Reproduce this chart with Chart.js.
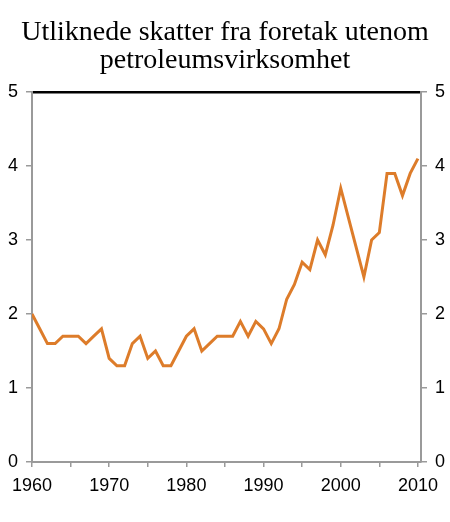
<!DOCTYPE html>
<html>
<head>
<meta charset="utf-8">
<script src="https://cdn.jsdelivr.net/npm/chart.js@4"></script>
<style>
  html, body { margin:0; padding:0; background:#fff; }
  #wrap { width:450px; height:522px; }
</style>
</head>
<body>
<div id="wrap"><canvas id="chart" width="450" height="522"></canvas></div>
<script>
// ---- data ----
const titleLines = ["Utliknede skatter fra foretak utenom", "petroleumsvirksomhet"];
const years = [
  1960,1961,1962,1963,1964,1965,1966,1967,1968,1969,
  1970,1971,1972,1973,1974,1975,1976,1977,1978,1979,
  1980,1981,1982,1983,1984,1985,1986,1987,1988,1989,
  1990,1991,1992,1993,1994,1995,1996,1997,1998,1999,
  2000,2001,2002,2003,2004,2005,2006,2007,2008,2009,2010
];
const taxes = [
  2.0,1.8,1.6,1.6,1.7,1.7,1.7,1.6,1.7,1.8,
  1.4,1.3,1.3,1.6,1.7,1.4,1.5,1.3,1.3,1.5,
  1.7,1.8,1.5,1.6,1.7,1.7,1.7,1.9,1.7,1.9,
  1.8,1.6,1.8,2.2,2.4,2.7,2.6,3.0,2.8,3.2,
  3.7,3.3,2.9,2.5,3.0,3.1,3.9,3.9,3.6,3.9,4.1
];
const yTicks = [0,1,2,3,4,5];

const AXIS_GREY = "#9a9a9a";
const tickFont = { family: "'Liberation Sans', Arial, sans-serif", size: 18 };

const yAxis = (pos, width) => ({
  type: "linear",
  position: pos,
  min: 0, max: 5,
  afterBuildTicks: (ax) => { ax.ticks = yTicks.map(v => ({ value: v })); },
  afterFit: (ax) => { ax.width = width; },
  ticks: { color: "#000", font: tickFont, padding: 8 },
  grid: { drawOnChartArea: false, color: AXIS_GREY, tickLength: 6, lineWidth: 1.5 },
  border: { color: AXIS_GREY, width: 2 }
});

new Chart(document.getElementById("chart"), {
  type: "line",
  data: {
    datasets: [{
      data: years.map((y, i) => ({ x: y, y: taxes[i] })),
      borderColor: "#dd7c2a",
      borderWidth: 3,
      pointRadius: 0,
      tension: 0
    }]
  },
  options: {
    responsive: false,
    animation: false,
    layout: { padding: { left: 0, right: 0, top: 4, bottom: 0 } },
    plugins: {
      legend: { display: false },
      tooltip: { enabled: false },
      title: {
        display: true,
        text: titleLines,
        color: "#000",
        font: { family: "'Liberation Serif', 'Times New Roman', serif", size: 28, weight: "normal", lineHeight: 1.0 },
        padding: { top: 15, bottom: 17 }
      }
    },
    scales: {
      x: {
        type: "linear",
        min: 1960, max: 2010.4,
        afterBuildTicks: (ax) => {
          const t = [];
          for (let v = 1960; v <= 2010; v += 5) t.push({ value: v });
          ax.ticks = t;
        },
        afterFit: (ax) => { ax.height = 60; },
        ticks: {
          color: "#000", font: tickFont, padding: 8, maxRotation: 0, autoSkip: false,
          callback: (v) => (v % 10 === 0 ? String(v) : "")
        },
        grid: { drawOnChartArea: false, color: AXIS_GREY, tickLength: 5, lineWidth: 1.5 },
        border: { color: AXIS_GREY, width: 2 }
      },
      xTop: {
        type: "linear",
        position: "top",
        min: 1960, max: 2010.4,
        afterFit: (ax) => { ax.height = 0; },
        ticks: { display: false },
        grid: { display: false, drawTicks: false },
        border: { color: "#000", width: 2.5 }
      },
      y: yAxis("left", 32),
      yRight: yAxis("right", 29)
    }
  }
});
</script>
</body>
</html>
